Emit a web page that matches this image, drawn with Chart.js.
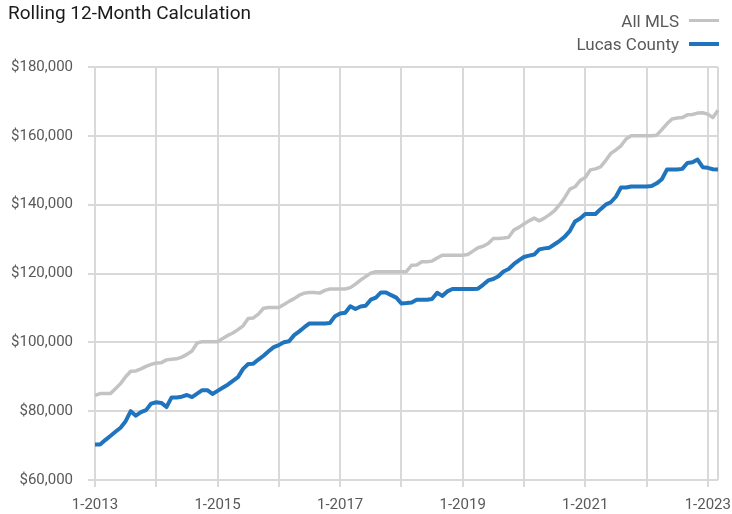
<!DOCTYPE html>
<html><head><meta charset="utf-8">
<script src="https://cdn.jsdelivr.net/npm/chart.js@4.4.1/dist/chart.umd.min.js"></script>
<style>
html,body{margin:0;padding:0;background:#fff;}
#wrap{position:relative;width:732px;height:514px;overflow:hidden;font-family:Roboto,"Liberation Sans",sans-serif;}
#c{position:absolute;left:0;top:0;}
.title{position:absolute;left:8px;top:1px;font-size:19px;line-height:24px;color:#1a1a1a;white-space:nowrap;}
.leg{position:absolute;right:53px;font-size:17px;line-height:20px;color:#595959;white-space:nowrap;}
.sw{position:absolute;left:689px;width:30px;height:3px;}
</style></head>
<body>
<div id="wrap">
<canvas id="c" width="732" height="514"></canvas>
<div class="title">Rolling 12-Month Calculation</div>
<div class="leg" style="top:11px">All MLS</div>
<div class="sw" style="top:19px;background:#c3c3c3"></div>
<div class="leg" style="top:34px">Lucas County</div>
<div class="sw" style="top:42px;height:4px;background:#1f74bd"></div>
</div>
<script>
// Categories: monthly from 1-2013 through 3-2023
const startYear = 2013;
const monthCount = 123;
const months = [];
for (let i = 0; i < monthCount; i++) {
  months.push(((i % 12) + 1) + '-' + (startYear + Math.floor(i / 12)));
}
const tickLabels = ['1-2013','1-2015','1-2017','1-2019','1-2021','1-2023'];
const yTicks = [60000, 80000, 100000, 120000, 140000, 160000, 180000];

const allMLS = [
 84600,85100,85100,85100,86500,88000,90000,91600,91700,92300,93000,93600,
 94000,94100,94900,95100,95200,95700,96500,97500,99800,100200,100200,100200,
 100200,101100,102000,102700,103700,104800,106900,107100,108200,109900,110100,110100,
 110100,111000,111900,112700,113700,114300,114500,114500,114300,115100,115500,115500,
 115500,115500,115900,116900,118100,119100,120100,120500,120500,120500,120500,120500,
 120500,120600,122400,122500,123400,123400,123600,124500,125300,125300,125300,125300,
 125300,125500,126500,127500,127900,128700,130200,130200,130300,130500,132600,133400,
 134400,135300,136100,135300,136100,137100,138300,140000,142100,144500,145200,147000,
 147900,150100,150400,151000,152800,154900,155900,157100,159100,160000,160000,160000,
 160000,160000,160200,161800,163500,164900,165200,165300,166100,166200,166600,166700,
 166300,165300,167400
];
const lucasCounty = [
 70300,70300,71600,72800,74000,75200,77100,80000,78700,79700,80300,82200,
 82600,82400,81200,84000,84000,84200,84700,84100,85100,86100,86100,85000,
 85900,86800,87700,88800,89900,92300,93700,93800,95000,96100,97400,98600,
 99200,100000,100300,102100,103200,104400,105500,105500,105500,105500,105600,107600,
 108400,108600,110500,109700,110400,110600,112400,113000,114500,114500,113700,113000,
 111300,111400,111600,112400,112400,112400,112600,114400,113500,114800,115500,115500,
 115500,115500,115500,115600,116700,118000,118400,119200,120600,121300,122700,123800,
 124800,125200,125500,127000,127300,127500,128500,129500,130700,132400,135100,136000,
 137300,137300,137300,138700,140000,140700,142300,145000,145000,145300,145300,145300,
 145300,145400,146200,147400,150200,150200,150200,150400,152100,152300,153100,150900,
 150700,150300,150200
];

const gridColor = '#d9d9d9';
const tickFont = {family: 'Roboto', size: 15};
const last = monthCount - 1;

new Chart(document.getElementById('c'), {
  type: 'line',
  data: {
    labels: months,
    datasets: [
      {label: 'All MLS', data: allMLS, borderColor: '#c3c3c3', borderWidth: 3.5,
       pointRadius: 0, tension: 0, borderJoinStyle: 'round', fill: false},
      {label: 'Lucas County', data: lucasCounty, borderColor: '#1f74bd', borderWidth: 4,
       pointRadius: 0, tension: 0, borderJoinStyle: 'round', fill: false}
    ]
  },
  options: {
    responsive: false,
    animation: false,
    devicePixelRatio: 1,
    layout: {padding: {top: 67, right: 14, left: 0, bottom: 0}},
    plugins: {legend: {display: false}, tooltip: {enabled: false}, title: {display: false}},
    scales: {
      x: {
        type: 'category',
        offset: false,
        border: {display: false},
        grid: {
          color: c => (c.index % 12 === 0 || c.index === last) ? gridColor : 'rgba(0,0,0,0)',
          tickColor: c => (c.index % 12 === 0) ? gridColor : 'rgba(0,0,0,0)',
          lineWidth: 2,
          tickLength: 7
        },
        ticks: {
          autoSkip: false, maxRotation: 0, minRotation: 0,
          color: '#595959', font: tickFont, padding: 9,
          callback: (v, i) => (i % 24 === 0) ? tickLabels[i / 24] : ''
        },
        afterFit: s => { s.height = 34; }
      },
      y: {
        min: yTicks[0], max: yTicks[yTicks.length - 1],
        border: {display: false},
        grid: {color: gridColor, lineWidth: 2, tickLength: 7},
        ticks: {
          stepSize: 20000, color: '#595959', font: tickFont, padding: 15,
          callback: v => '$' + v.toLocaleString('en-US')
        },
        afterFit: s => { s.width = 95; }
      }
    }
  }
});
</script>
</body></html>
